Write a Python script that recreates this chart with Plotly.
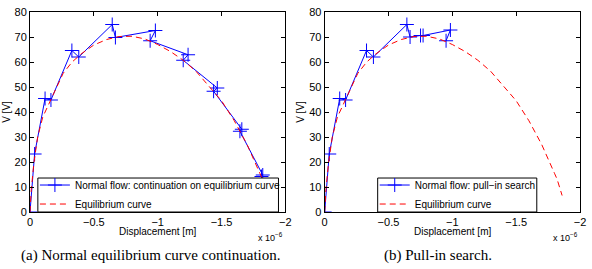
import plotly.graph_objects as go

# Displacement in units of 1e-6 m (negative), voltage in V
nf_a_x = [0, -0.036, -0.118, -0.164, -0.328, -0.382, -0.644, -0.669, -0.982, -0.941,
          -1.238, -1.200, -1.467, -1.438, -1.659, -1.644, -1.823, -1.813]
nf_a_v = [0, 23.2, 45.4, 44.8, 64.6, 62.0, 75.0, 69.8, 72.6, 68.5,
          62.9, 60.7, 49.6, 48.3, 33.1, 32.3, 14.8, 14.2]

nf_b_x = [0, -0.036, -0.118, -0.164, -0.328, -0.382, -0.644, -0.669, -0.751, -0.771, -0.985, -0.951]
nf_b_v = [0, 23.2, 45.4, 44.8, 64.6, 62.0, 75.0, 70.0, 70.6, 70.6, 72.8, 68.5]

eq_x = [0, -0.01, -0.03, -0.06, -0.1, -0.15, -0.2, -0.26, -0.33, -0.4, -0.5, -0.6, -0.7,
        -0.8, -0.9, -1.0, -1.1, -1.2, -1.3, -1.4, -1.5, -1.6, -1.7, -1.8, -1.82, -1.86]
eq_v = [0, 9, 19.5, 30, 38, 43.5, 49.5, 55.5, 60.0, 63.2, 66.8, 69.0, 70.2,
        70.3, 69.2, 67.0, 64.2, 60.7, 56.3, 50.5, 44.5, 36.5, 27.0, 15.5, 13.2, 6.6]
eq_a_end = 25  # left panel curve ends at -1.82

x_ticks = [0, -0.5, -1, -1.5, -2]
x_tick_text = ["0", "\u22120.5", "\u22121", "\u22121.5", "\u22122"]
y_ticks = [0, 10, 20, 30, 40, 50, 60, 70, 80]

names_a = ["Normal flow: continuation on equilibrium curve", "Equilibrium curve"]
names_b = ["Normal flow: pull\u2212in search", "Equilibrium curve"]
captions = ["(a) Normal equilibrium curve continuation.", "(b) Pull-in search."]
x_title = "Displacement [m]"
y_title = "V [V]"

BLUE = "rgb(0,0,255)"
RED = "rgb(255,0,0)"
FONT = "Liberation Sans, Arial, sans-serif"

fig = go.Figure()
marker = dict(symbol="cross-thin", size=10, line=dict(width=1, color=BLUE), color=BLUE)

fig.add_trace(go.Scatter(x=nf_a_x, y=nf_a_v, mode="lines+markers", name=names_a[0],
                         line=dict(color=BLUE, width=1), marker=marker,
                         xaxis="x", yaxis="y", legend="legend"))
fig.add_trace(go.Scatter(x=eq_x[:eq_a_end], y=eq_v[:eq_a_end], mode="lines", name=names_a[1],
                         line=dict(color=RED, width=1, dash="6px,4px"),
                         xaxis="x", yaxis="y", legend="legend"))
fig.add_trace(go.Scatter(x=nf_b_x, y=nf_b_v, mode="lines+markers", name=names_b[0],
                         line=dict(color=BLUE, width=1), marker=marker,
                         xaxis="x2", yaxis="y2", legend="legend2"))
fig.add_trace(go.Scatter(x=eq_x, y=eq_v, mode="lines", name=names_b[1],
                         line=dict(color=RED, width=1, dash="6px,4px"),
                         xaxis="x2", yaxis="y2", legend="legend2"))

W, H = 592, 269
L, R, T, B = 23, 9, 6, 57
pw = W - L - R
ph = H - T - B

def px(v):
    return (v - L) / pw

def py(v):
    return (H - B - v) / ph

def xa(domain, anchor):
    return dict(domain=domain, anchor=anchor, range=[0, -2], tickvals=x_ticks, ticktext=x_tick_text,
                ticks="inside", ticklen=4, tickcolor="black", showline=True, linecolor="black",
                linewidth=1, mirror="ticks", showgrid=False, zeroline=False,
                tickfont=dict(family=FONT, size=11, color="black"))

def ya(anchor):
    return dict(domain=[0, 1], anchor=anchor, range=[0, 80], tickvals=y_ticks,
                ticks="inside", ticklen=4, tickcolor="black", showline=True, linecolor="black",
                linewidth=1, mirror="ticks", showgrid=False, zeroline=False,
                tickfont=dict(family=FONT, size=11, color="black"),
                title=dict(text=y_title, font=dict(family=FONT, size=10, color="black"), standoff=2))

d1 = [0, 260 / pw]
d2 = [300 / pw, 1]

legend_common = dict(bgcolor="rgba(0,0,0,0)", borderwidth=0,
                     font=dict(family=FONT, size=10, color="black"),
                     xanchor="left", yanchor="middle", tracegroupgap=0, itemwidth=30)

fig.update_layout(
    width=W, height=H, margin=dict(l=L, r=R, t=T, b=B),
    paper_bgcolor="white", plot_bgcolor="white",
    xaxis=xa(d1, "y"), yaxis=ya("x"),
    xaxis2=xa(d2, "y2"), yaxis2=ya("x2"),
    legend=dict(x=px(28), y=py(194), **legend_common),
    legend2=dict(x=px(374), y=py(194), **legend_common),
    showlegend=True,
)

# legend boxes (opaque white with black border, under the legend entries)
for x0, x1 in [(31, 276), (377, 539)]:
    fig.add_shape(type="rect", xref="paper", yref="paper", x0=px(x0), x1=px(x1), y0=py(212), y1=py(177),
                  fillcolor="white", line=dict(color="black", width=1), layer="above")

for cx, xr in [(153, 283), (453, 583)]:
    fig.add_annotation(text=x_title, xref="paper", yref="paper", x=px(cx), y=py(232),
                       xanchor="center", yanchor="middle", showarrow=False,
                       font=dict(family=FONT, size=10, color="black"))
    fig.add_annotation(text="x 10<sup>\u22126</sup>", xref="paper", yref="paper",
                       x=px(xr), y=py(238), xanchor="right", yanchor="middle",
                       showarrow=False, font=dict(family=FONT, size=9, color="black"))

# captions
for cx, txt in zip([146, 438], captions):
    fig.add_annotation(text=txt, xref="paper", yref="paper",
                       x=px(cx), y=py(257), xanchor="center", yanchor="middle",
                       showarrow=False, font=dict(family="Liberation Serif, DejaVu Serif, serif", size=15, color="black"))

fig.write_html("out.html")
